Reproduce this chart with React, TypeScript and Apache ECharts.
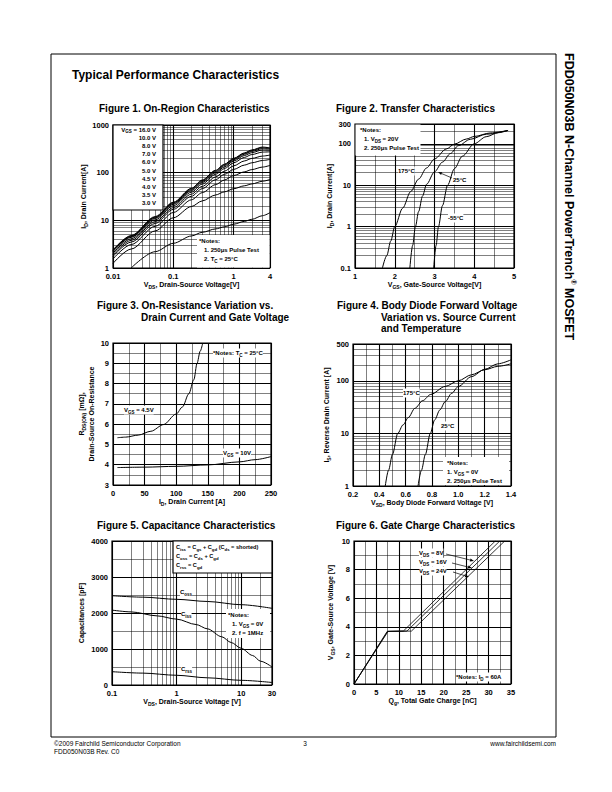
import React, { useEffect, useRef } from "react";
import * as echarts from "echarts";

const FONT = "'Liberation Sans', Arial, Helvetica, sans-serif";

// ---------- Figure 1: On-Region Characteristics ----------
const F1_VGS = [16, 10, 8, 7, 6, 5, 4.5, 4, 3.5, 3];
const F1_VDS = [0.01, 0.02, 0.05, 0.1, 0.2, 0.3, 0.5, 0.7, 1, 1.5, 2, 3, 4];
const F1_ID_16 = [2.4, 4.8, 12, 24, 47, 70, 112, 150, 200, 260, 300, 345, 330];
const F1_ID_10 = [2.35, 4.7, 11.7, 23.4, 46, 68, 109, 146, 195, 252, 292, 335, 325];
const F1_ID_8 = [2.3, 4.55, 11.3, 22.6, 44, 65, 104, 140, 187, 243, 280, 320, 314];
const F1_ID_7 = [2.2, 4.4, 10.9, 21.7, 42, 62, 99, 132, 176, 229, 263, 300, 297];
const F1_ID_6 = [2.05, 4.1, 10.2, 20.3, 39, 57.5, 92, 122, 161, 209, 240, 270, 274];
const F1_ID_5 = [1.9, 3.8, 9.4, 18.5, 35.5, 51.5, 81, 107, 139, 176, 199, 223, 234];
const F1_ID_45 = [1.75, 3.5, 8.6, 17, 32, 46, 71, 92, 117, 144, 161, 180, 190];
const F1_ID_4 = [1.55, 3.1, 7.5, 14.6, 27, 38, 56, 70, 87, 104, 116, 131, 142];
const F1_ID_35 = [1.25, 2.5, 6, 11.3, 19.5, 25.5, 34, 39.5, 46, 53, 58, 66, 72];
const F1_ID_3 = [null, 1.0, 2.2, 3.3, 4.7, 5.6, 6.6, 7.3, 8.3, 9.5, 10.5, 12.5, 14.5];
const F1_CURVES = [F1_ID_16, F1_ID_10, F1_ID_8, F1_ID_7, F1_ID_6, F1_ID_5, F1_ID_45, F1_ID_4, F1_ID_35, F1_ID_3];

// ---------- Figure 2: Transfer Characteristics ----------
const F2_T175_VGS = [1.69, 1.8, 1.9, 2.0, 2.2, 2.4, 2.6, 2.8, 3.0, 3.3, 3.5, 3.8, 4.0, 4.4, 4.85];
const F2_T175_ID = [0.1, 0.2, 0.45, 1, 2.8, 7, 14, 26, 43, 75, 98, 130, 150, 182, 210];
const F2_T25_VGS = [2.38, 2.45, 2.52, 2.6, 2.7, 2.8, 3.0, 3.2, 3.4, 3.6, 3.9, 4.3, 4.85];
const F2_T25_ID = [0.1, 0.35, 1, 2.3, 5.5, 10.5, 21, 36, 58, 90, 128, 170, 210];
const F2_TM55_VGS = [2.98, 3.04, 3.1, 3.2, 3.33, 3.5, 3.7, 4.0, 4.3, 4.6, 4.85];
const F2_TM55_ID = [0.1, 0.35, 1, 3.2, 10, 25, 50, 100, 148, 185, 210];

// ---------- Figure 3: On-Resistance ----------
const F3_ID_45 = [7, 20, 40, 60, 80, 100, 110, 120, 128, 133, 138, 142];
const F3_R_45 = [5.33, 5.36, 5.46, 5.65, 5.98, 6.5, 6.85, 7.5, 8.2, 9.0, 9.6, 10];
const F3_ID_10 = [7, 50, 100, 150, 200, 225, 250];
const F3_R_10 = [3.86, 3.88, 3.92, 3.99, 4.14, 4.25, 4.4];

// ---------- Figure 4: Body Diode ----------
const F4_T175_VSD = [0.445, 0.47, 0.5, 0.54, 0.58, 0.62, 0.67, 0.73, 0.79, 0.9, 1.0, 1.1, 1.2, 1.3, 1.4];
const F4_T175_IS = [1, 2, 4, 10, 14.5, 20, 30, 42, 55, 78, 100, 130, 162, 188, 210];
const F4_T25_VSD = [0.694, 0.72, 0.75, 0.787, 0.82, 0.86, 0.9, 0.95, 1.0, 1.1, 1.2, 1.3, 1.4];
const F4_T25_IS = [1, 2, 4, 10, 18, 28, 40, 58, 78, 120, 165, 210, 250];

// ---------- Figure 5: Capacitance ----------
const F5_COSS_V = [0.1, 0.3, 1, 3, 10, 30];
const F5_COSS = [2480, 2440, 2380, 2320, 2230, 2130];
const F5_CISS_V = [0.1, 0.2, 0.5, 1, 2, 3, 5, 7, 10, 15, 20, 30];
const F5_CISS = [2080, 2030, 1920, 1830, 1680, 1560, 1340, 1180, 1020, 820, 660, 500];
const F5_CRSS_V = [0.1, 0.3, 1, 3, 10, 30];
const F5_CRSS = [370, 330, 270, 200, 130, 70];

// ---------- Figure 6: Gate Charge ----------
const F6_QG_8 = [0, 7.4, 11.0, 31.5];
const F6_VGS_8 = [0, 3.68, 3.7, 10];
const F6_QG_16 = [0, 7.5, 11.8, 32.5];
const F6_VGS_16 = [0, 3.68, 3.7, 10];
const F6_QG_24 = [0, 7.6, 12.8, 33.6];
const F6_VGS_24 = [0, 3.68, 3.7, 10];

const zip = (xs: number[], ys: (number | null)[]) =>
  xs.map((x, i) => [x, ys[i]]).filter((p) => p[1] !== null);

const decadeMinors = (lo: number, hi: number) => {
  const out: number[] = [];
  for (let e = -3; e <= 4; e++) {
    for (let m = 2; m <= 9; m++) {
      const v = +(m * Math.pow(10, e)).toPrecision(3);
      if (v > lo * 1.0001 && v < hi * 0.9999) out.push(v);
    }
  }
  return out;
};

const GRIDS = [
  { left: 113, top: 125, width: 157, height: 143 },
  { left: 355, top: 124, width: 159, height: 144 },
  { left: 113, top: 343, width: 158, height: 142 },
  { left: 353, top: 344, width: 158, height: 142 },
  { left: 112, top: 541, width: 160, height: 144 },
  { left: 354, top: 541, width: 157, height: 143 },
];

const richAxis = {
  n: { fontSize: 7, fontWeight: "bold", fontFamily: FONT, color: "#000", lineHeight: 10 },
  s: { fontSize: 5, fontWeight: "bold", fontFamily: FONT, color: "#000", lineHeight: 7, verticalAlign: "bottom" },
};
const richG = {
  n: { fontSize: 6, fontWeight: "bold", fontFamily: FONT, fill: "#000", lineHeight: 9 },
  s: { fontSize: 4.5, fontWeight: "bold", fontFamily: FONT, fill: "#000", lineHeight: 6, verticalAlign: "bottom" },
  sup: { fontSize: 4.5, fontWeight: "bold", fontFamily: FONT, fill: "#000", lineHeight: 6, verticalAlign: "top" },
};

const fmtLog = (v: number) => String(parseFloat(Number(v).toPrecision(3)));

const majorSplit = { show: true, lineStyle: { color: "#000", width: 1.1 } };
const minorSplit = { show: true, lineStyle: { color: "#000", width: 0.5 } };

function mkAxis(gridIndex: number, type: string, min: number, max: number, name: string, gap: number, isY: boolean, extra: any = {}) {
  const a: any = {
    gridIndex,
    type,
    min,
    max,
    name,
    nameLocation: "middle",
    nameGap: gap,
    nameTextStyle: { rich: richAxis },
    axisLine: { show: false },
    axisTick: { show: false },
    axisLabel: { color: "#000", fontSize: 7.5, fontWeight: "bold", fontFamily: FONT, margin: 4, showMinLabel: true, showMaxLabel: true, hideOverlap: false, formatter: (v: number) => String(v) },
    splitLine: majorSplit,
    ...extra,
  };
  if (type === "log") {
    a.logBase = 10;
    a.axisLabel.formatter = fmtLog;
  }
  if (isY) a.nameRotate = 90;
  return a;
}

const minorMark = (xs: number[], ys: number[]) => ({
  silent: true,
  symbol: ["none", "none"],
  label: { show: false },
  emphasis: { disabled: true },
  lineStyle: { color: "#000", width: 0.5, type: "solid" },
  data: [...xs.map((v) => ({ xAxis: v })), ...ys.map((v) => ({ yAxis: v }))],
});

const lineSeries = (name: string, idx: number, data: any[], smooth: any = 0.3, extra: any = {}) => ({
  type: "line",
  name,
  xAxisIndex: idx,
  yAxisIndex: idx,
  data,
  showSymbol: false,
  symbol: "none",
  smooth,
  smoothMonotone: "x",
  lineStyle: { color: "#000", width: 1 },
  silent: true,
  ...extra,
});

function txt(x: number, y: number, text: string, opts: any = {}) {
  return {
    type: "text",
    x,
    y,
    z: 100,
    style: {
      text,
      rich: richG,
      fontSize: 6,
      fontWeight: "bold",
      fontFamily: FONT,
      fill: "#000",
      align: "left",
      verticalAlign: "middle",
      ...opts,
    },
  };
}

function arrow(x1: number, y1: number, x2: number, y2: number) {
  const ang = Math.atan2(y2 - y1, x2 - x1);
  const L = 4, W = 1.5;
  const bx = x2 - L * Math.cos(ang), by = y2 - L * Math.sin(ang);
  const px = -Math.sin(ang) * W, py = Math.cos(ang) * W;
  return [
    { type: "line", z: 100, shape: { x1, y1, x2: bx, y2: by }, style: { stroke: "#000", lineWidth: 0.7 } },
    { type: "polygon", z: 100, shape: { points: [[x2, y2], [bx + px, by + py], [bx - px, by - py]] }, style: { fill: "#000" } },
  ];
}

function buildOption() {
  const xAxis = [
    mkAxis(0, "log", 0.01, 4, "{n|V}{s|DS}{n|, Drain-Source Voltage[V]}", 9, false),
    mkAxis(1, "value", 1, 5, "{n|V}{s|GS}{n|, Gate-Source Voltage[V]}", 9, false, { interval: 1, minorTick: { show: false, splitNumber: 2 }, minorSplitLine: minorSplit }),
    mkAxis(2, "value", 0, 250, "{n|I}{s|D}{n|, Drain Current [A]}", 9, false, { interval: 50, minorTick: { show: false, splitNumber: 2 }, minorSplitLine: minorSplit }),
    mkAxis(3, "value", 0.2, 1.4, "{n|V}{s|SD}{n|, Body Diode Forward Voltage [V]}", 9, false, { interval: 0.2, minorTick: { show: false, splitNumber: 2 }, minorSplitLine: minorSplit }),
    mkAxis(4, "log", 0.1, 30, "{n|V}{s|DS}{n|, Drain-Source Voltage [V]}", 9, false),
    mkAxis(5, "value", 0, 35, "{n|Q}{s|g}{n|, Total Gate Charge [nC]}", 9, false, { interval: 5, minorTick: { show: false, splitNumber: 2 }, minorSplitLine: minorSplit }),
  ];
  xAxis[3].axisLabel.formatter = (v: number) => v.toFixed(1);

  const yAxis = [
    mkAxis(0, "log", 1, 1000, "{n|I}{s|D}{n|, Drain Current[A]}", 20, true),
    mkAxis(1, "log", 0.1, 300, "{n|I}{s|D}{n|, Drain Current[A]}", 18, true),
    mkAxis(2, "value", 3, 10, "{n|R}{s|DS(ON)}{n| [mΩ],}\n{n|Drain-Source On-Resistance}", 17, true, { interval: 1, minorTick: { show: false, splitNumber: 2 }, minorSplitLine: minorSplit }),
    mkAxis(3, "log", 1, 500, "{n|I}{s|S}{n|, Reverse Drain Current [A]}", 22, true),
    mkAxis(4, "value", 0, 4000, "{n|Capacitances [pF]}", 26, true, { interval: 1000, minorTick: { show: false, splitNumber: 2 }, minorSplitLine: minorSplit }),
    mkAxis(5, "value", 0, 10, "{n|V}{s|GS}{n|, Gate-Source Voltage [V]}", 19, true, { interval: 2, minorTick: { show: false, splitNumber: 2 }, minorSplitLine: minorSplit }),
  ];

  const series: any[] = [];
  F1_VGS.forEach((v, i) => {
    series.push(
      lineSeries(`VGS = ${v.toFixed(1)} V`, 0, zip(F1_VDS, F1_CURVES[i]), 0.3,
        i === 0 ? { markLine: minorMark(decadeMinors(0.01, 4), decadeMinors(1, 1000)) } : {})
    );
  });
  series.push(lineSeries("175°C", 1, zip(F2_T175_VGS, F2_T175_ID), 0.3, { markLine: minorMark([], decadeMinors(0.1, 300)) }));
  series.push(lineSeries("25°C", 1, zip(F2_T25_VGS, F2_T25_ID)));
  series.push(lineSeries("-55°C", 1, zip(F2_TM55_VGS, F2_TM55_ID)));
  series.push(lineSeries("VGS = 4.5V", 2, zip(F3_ID_45, F3_R_45)));
  series.push(lineSeries("VGS = 10V", 2, zip(F3_ID_10, F3_R_10)));
  series.push(lineSeries("175°C ", 3, zip(F4_T175_VSD, F4_T175_IS), 0.3, { markLine: minorMark([], decadeMinors(1, 500)) }));
  series.push(lineSeries("25°C ", 3, zip(F4_T25_VSD, F4_T25_IS)));
  series.push(lineSeries("Coss", 4, zip(F5_COSS_V, F5_COSS), 0.3, { markLine: minorMark(decadeMinors(0.1, 30), []) }));
  series.push(lineSeries("Ciss", 4, zip(F5_CISS_V, F5_CISS)));
  series.push(lineSeries("Crss", 4, zip(F5_CRSS_V, F5_CRSS)));
  series.push(lineSeries("VDS = 8V", 5, zip(F6_QG_8, F6_VGS_8), false, { lineStyle: { color: "#000", width: 0.8 } }));
  series.push(lineSeries("VDS = 16V", 5, zip(F6_QG_16, F6_VGS_16), false, { lineStyle: { color: "#000", width: 0.8 } }));
  series.push(lineSeries("VDS = 24V", 5, zip(F6_QG_24, F6_VGS_24), false, { lineStyle: { color: "#000", width: 0.8 } }));

  const g: any[] = [];
  // page frame
  g.push({ type: "rect", z: 90, shape: { x: 51, y: 54, width: 505, height: 683 }, style: { fill: "none", stroke: "#000", lineWidth: 1 } });
  g.push(txt(72, 75, "Typical Performance Characteristics", { fontSize: 12, rich: undefined }));
  g.push({
    type: "text", x: 569, y: 53, rotation: -Math.PI / 2, z: 100,
    style: {
      text: "{n|FDD050N03B N-Channel PowerTrench}{sup|®}{n| MOSFET}",
      rich: {
        n: { fontSize: 12.5, fontWeight: "bold", fontFamily: FONT, fill: "#000", lineHeight: 15 },
        sup: { fontSize: 7, fontWeight: "bold", fontFamily: FONT, fill: "#000", lineHeight: 9, verticalAlign: "top" },
      },
      align: "left", verticalAlign: "middle",
    },
  });
  // figure titles
  const T = { fontSize: 10, rich: undefined };
  g.push(txt(99, 108, "Figure 1. On-Region Characteristics", T));
  g.push(txt(336, 108, "Figure 2. Transfer Characteristics", T));
  g.push(txt(97, 305, "Figure 3. On-Resistance Variation vs.", T));
  g.push(txt(141, 317, "Drain Current and Gate Voltage", T));
  g.push(txt(337, 305, "Figure 4. Body Diode Forward Voltage", T));
  g.push(txt(381, 317, "Variation vs. Source Current", T));
  g.push(txt(381, 328, "and Temperature", T));
  g.push(txt(97, 525, "Figure 5. Capacitance Characteristics", T));
  g.push(txt(336, 525, "Figure 6. Gate Charge Characteristics", T));

  // Figure 1 legend box and notes
  g.push({ type: "rect", z: 99, shape: { x: 113, y: 125, width: 50, height: 85 }, style: { fill: "#fff", stroke: "#000", lineWidth: 1.2 } });
  F1_VGS.forEach((v, i) => {
    const lab = `${v.toFixed(1)} V`;
    g.push(txt(156, 129.5 + i * 8.2, i === 0 ? `{n|V}{s|GS}{n| = ${lab}}` : `{n|${lab}}`, { align: "right" }));
  });
  g.push({ type: "rect", z: 99, shape: { x: 197, y: 235, width: 72.5, height: 32.5 }, style: { fill: "#fff" } });
  g.push(txt(199, 241, "{n|*Notes:}"));
  g.push(txt(204, 250, "{n|1. 250μs Pulse Test}"));
  g.push(txt(204, 259, "{n|2. T}{s|C}{n| = 25°C}"));

  // Figure 2
  g.push({ type: "rect", z: 99, shape: { x: 355.5, y: 124.5, width: 65, height: 31 }, style: { fill: "#fff" } });
  g.push(txt(360, 130, "{n|*Notes:}"));
  g.push(txt(364, 139, "{n|1. V}{s|DS}{n| = 20V}"));
  g.push(txt(364, 148, "{n|2. 250μs Pulse Test}"));
  g.push(txt(398, 171, "{n|175°C}", { backgroundColor: "#fff" }));
  g.push(txt(453, 180, "{n|25°C}", { backgroundColor: "#fff" }));
  g.push(...arrow(452, 178, 438, 172));
  g.push(txt(448, 218, "{n|-55°C}", { backgroundColor: "#fff" }));

  // Figure 3
  g.push(txt(213, 353, "{n|*Notes: T}{s|C}{n| = 25°C}", { backgroundColor: "#fff" }));
  g.push(txt(124, 410, "{n|V}{s|GS}{n| = 4.5V}", { backgroundColor: "#fff" }));
  g.push(txt(223, 453, "{n|V}{s|GS}{n| = 10V}", { backgroundColor: "#fff" }));

  // Figure 4
  g.push(txt(403, 393, "{n|175°C}", { backgroundColor: "#fff" }));
  g.push(txt(441, 426, "{n|25°C}", { backgroundColor: "#fff" }));
  g.push({ type: "rect", z: 99, shape: { x: 443, y: 457, width: 66, height: 28 }, style: { fill: "#fff" } });
  g.push(txt(447, 463, "{n|*Notes:}"));
  g.push(txt(447, 472, "{n|1. V}{s|GS}{n| = 0V}"));
  g.push(txt(447, 481, "{n|2. 250μs Pulse Test}"));

  // Figure 5
  g.push({ type: "rect", z: 99, shape: { x: 173, y: 541, width: 99, height: 32 }, style: { fill: "#fff", stroke: "#000", lineWidth: 1.2 } });
  const R5 = { rich: { ...richG, n: { ...richG.n, fontSize: 5.6 }, s: { ...richG.s, fontSize: 4.3 } } };
  g.push(txt(176, 547, "{n|C}{s|iss}{n| = C}{s|gs}{n| + C}{s|gd}{n| (C}{s|ds}{n| = shorted)}", R5));
  g.push(txt(176, 556, "{n|C}{s|oss}{n| = C}{s|ds}{n| + C}{s|gd}", R5));
  g.push(txt(176, 565, "{n|C}{s|rss}{n| = C}{s|gd}", R5));
  g.push(txt(180, 592, "{n|C}{s|oss}", { backgroundColor: "#fff" }));
  g.push(txt(181, 614, "{n|C}{s|iss}", { backgroundColor: "#fff" }));
  g.push(txt(181, 669, "{n|C}{s|rss}", { backgroundColor: "#fff" }));
  g.push({ type: "rect", z: 99, shape: { x: 226, y: 609, width: 44, height: 29 }, style: { fill: "#fff" } });
  g.push(txt(228, 615, "{n|*Notes:}"));
  g.push(txt(232, 624, "{n|1. V}{s|GS}{n| = 0V}"));
  g.push(txt(232, 633, "{n|2. f = 1MHz}"));

  // Figure 6
  g.push(txt(419, 553, "{n|V}{s|DS}{n| = 8V}", { backgroundColor: "#fff" }));
  g.push(txt(419, 562, "{n|V}{s|DS}{n| = 16V}", { backgroundColor: "#fff" }));
  g.push(txt(419, 571, "{n|V}{s|DS}{n| = 24V}", { backgroundColor: "#fff" }));
  g.push(...arrow(446, 554, 474, 561));
  g.push(...arrow(452, 563, 472, 568));
  g.push(...arrow(453, 572, 469, 577));
  g.push(txt(456, 677, "{n|*Notes: I}{s|D}{n| = 60A}", { backgroundColor: "#fff" }));

  // footer
  const F = { fontSize: 6.5, fontWeight: "normal", rich: undefined };
  g.push(txt(54, 743, "©2009 Fairchild Semiconductor Corporation", F));
  g.push(txt(54, 751, "FDD050N03B Rev. C0", F));
  g.push(txt(305, 743, "3", { ...F, align: "center" }));
  g.push(txt(556, 743, "www.fairchildsemi.com", { ...F, align: "right" }));

  return {
    animation: false,
    backgroundColor: "#fff",
    textStyle: { fontFamily: FONT },
    grid: GRIDS.map((gr) => ({ ...gr, show: true, borderColor: "#000", borderWidth: 1.2, backgroundColor: "#fff", containLabel: false })),
    xAxis,
    yAxis,
    series,
    graphic: g,
  };
}

export default function App() {
  const ref = useRef<HTMLDivElement>(null);
  useEffect(() => {
    if (!ref.current) return;
    const chart = echarts.init(ref.current, null, { renderer: "svg", width: 612, height: 792 });
    chart.setOption(buildOption() as any);
    return () => chart.dispose();
  }, []);
  return (
    <div
      ref={ref}
      style={{ position: "absolute", left: 0, top: 0, width: 612, height: 792, background: "#fff" }}
    />
  );
}
